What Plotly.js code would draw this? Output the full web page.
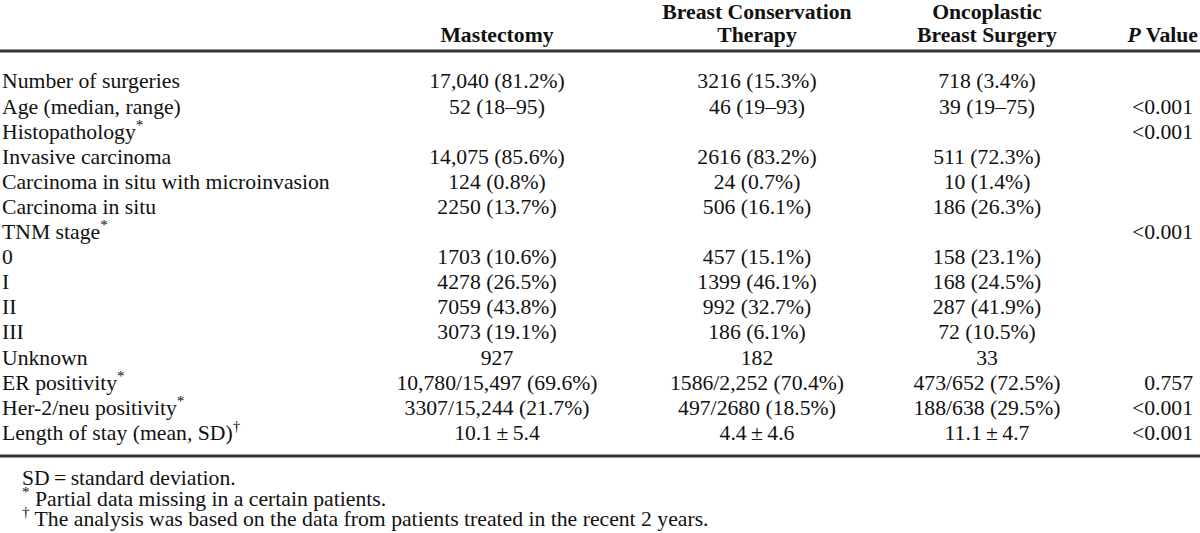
<!DOCTYPE html>
<html><head><meta charset="utf-8">
<script src="https://cdn.plot.ly/plotly-3.0.1.min.js"></script>
<style>html,body{margin:0;padding:0;background:#fff}</style>
</head><body><div id="chart" style="width:1200px;height:533px"></div>
<script>
// ---- data ----
const headerLine1 = ["", "Breast Conservation", "Oncoplastic", ""];
const headerLine2 = ["Mastectomy", "Therapy", "Breast Surgery", "P Value"];
const rowLabels = ["Number of surgeries","Age (median, range)","Histopathology","Invasive carcinoma","Carcinoma in situ with microinvasion","Carcinoma in situ","TNM stage","0","I","II","III","Unknown","ER positivity","Her-2/neu positivity","Length of stay (mean, SD)"];
const rowMarks = ["","","*","","","","*","","","","","","*","*","†"];
const mastectomy = ["17,040 (81.2%)","52 (18–95)","","14,075 (85.6%)","124 (0.8%)","2250 (13.7%)","","1703 (10.6%)","4278 (26.5%)","7059 (43.8%)","3073 (19.1%)","927","10,780/15,497 (69.6%)","3307/15,244 (21.7%)","10.1\u2009±\u20095.4"];
const bct = ["3216 (15.3%)","46 (19–93)","","2616 (83.2%)","24 (0.7%)","506 (16.1%)","","457 (15.1%)","1399 (46.1%)","992 (32.7%)","186 (6.1%)","182","1586/2,252 (70.4%)","497/2680 (18.5%)","4.4\u2009±\u20094.6"];
const obs = ["718 (3.4%)","39 (19–75)","","511 (72.3%)","10 (1.4%)","186 (26.3%)","","158 (23.1%)","168 (24.5%)","287 (41.9%)","72 (10.5%)","33","473/652 (72.5%)","188/638 (29.5%)","11.1\u2009±\u20094.7"];
const pValues = ["","<0.001","<0.001","","","","<0.001","","","","","","0.757","<0.001","<0.001"];
const footMarks = ["", "*", "†"];
const footTexts = ["SD\u2009=\u2009standard deviation.", " Partial data missing in a certain patients.", " The analysis was based on the data from patients treated in the recent 2 years."];

// ---- layout config ----
const FONT = "Liberation Serif, Times New Roman, serif";
const FS = 21.7;
const INK = "#111";
const colX = {label: 2, m: 497, b: 757, o: 987, p: 1193, pHead: 1198, foot: 22};
const rowIdx = rowLabels.map((_, i) => i);
const headY = [-2.75, -1.83];
const footY = [15.78, 16.65, 17.45];
const esc = s => s.replace(/</g, "&lt;");

const traces = [];
function textTrace(xs, ys, texts, pos) {
  const X = [], Y = [], T = [];
  texts.forEach((t, i) => { if (t && t.replace(/<[^>]*>/g, "").trim() !== "") { X.push(xs[i]); Y.push(ys[i]); T.push(t); } });
  traces.push({
    type: "scatter", mode: "text", x: X, y: Y, text: T,
    textposition: pos, cliponaxis: false, hoverinfo: "skip", showlegend: false,
    textfont: {family: FONT, size: FS, color: INK}
  });
}
// row labels
textTrace(rowIdx.map(() => colX.label), rowIdx,
  rowLabels.map((l, i) => rowMarks[i] ? l + "<sup>" + rowMarks[i] + "</sup>" : l), "middle right");
// data columns
textTrace(rowIdx.map(() => colX.m), rowIdx, mastectomy, "middle center");
textTrace(rowIdx.map(() => colX.b), rowIdx, bct, "middle center");
textTrace(rowIdx.map(() => colX.o), rowIdx, obs, "middle center");
textTrace(rowIdx.map(() => colX.p), rowIdx, pValues.map(esc), "middle left");
// headers
const hx = [colX.m, colX.b, colX.o];
textTrace(hx, hx.map(() => headY[0]), headerLine1.slice(0, 3).map(t => t ? "<b>" + t + "</b>" : ""), "middle center");
textTrace(hx, hx.map(() => headY[1]), headerLine2.slice(0, 3).map(t => "<b>" + t + "</b>"), "middle center");
const pParts = headerLine2[3].split(" ");
textTrace([colX.pHead], [headY[1]], ["<b><i>" + pParts[0] + "</i> " + pParts.slice(1).join(" ") + "</b>"], "middle left");
// footnotes
textTrace(footTexts.map(() => colX.foot), footY,
  footTexts.map((t, i) => footMarks[i] ? "<sup>" + footMarks[i] + "</sup>" + t : t), "middle right");

const y0 = 83, pitch = 25.1, H = 533;
const layout = {
  width: 1200, height: 533,
  margin: {l: 0, r: 0, t: 0, b: 0},
  paper_bgcolor: "#fff", plot_bgcolor: "#fff",
  showlegend: false,
  xaxis: {range: [0, 1200], visible: false, fixedrange: true},
  yaxis: {range: [(H - y0) / pitch, -y0 / pitch], visible: false, fixedrange: true},
  shapes: [
    {type: "line", xref: "paper", yref: "y", x0: 0, x1: 1, y0: -1.275, y1: -1.275, line: {color: "#333", width: 3}},
    {type: "line", xref: "paper", yref: "y", x0: 0, x1: 1, y0: 14.86, y1: 14.86, line: {color: "#333", width: 3}}
  ],
  font: {family: FONT, size: FS, color: INK}
};
Plotly.newPlot("chart", traces, layout, {staticPlot: true, displayModeBar: false});
</script></body></html>
